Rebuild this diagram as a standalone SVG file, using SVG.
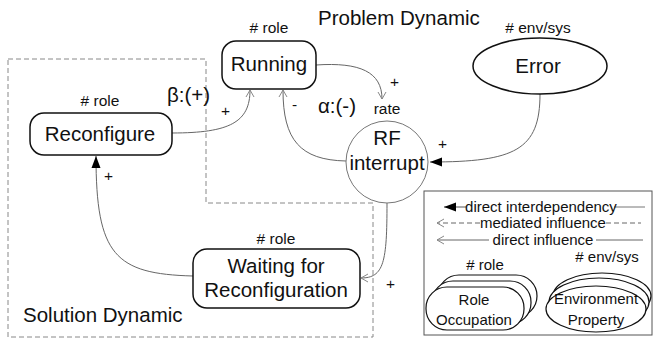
<svg xmlns="http://www.w3.org/2000/svg" width="654" height="340" viewBox="0 0 654 340">
  <style>
    text { font-family: "Liberation Sans", Arial, sans-serif; fill: #111; }
    .big { font-size: 20.5px; }
    .small { font-size: 15.5px; }
    .leg { font-size: 15px; }
    .node { fill: #fff; stroke: #111; stroke-width: 1.5; }
    .thin { fill: #fff; stroke: #777; stroke-width: 1; }
    .conn { fill: none; stroke: #666; stroke-width: 1; }
    .bound { fill: none; stroke: #888; stroke-width: 1; stroke-dasharray: 5 3; }
    .stack { fill: #fff; stroke: #111; stroke-width: 1.2; }
  </style>
  <defs>
    <marker id="open" viewBox="-9 -5 10 10" refX="0" refY="0" markerWidth="10" markerHeight="10" orient="auto" markerUnits="userSpaceOnUse">
      <path d="M-7,-4 L0,0 L-7,4" fill="none" stroke="#888" stroke-width="1"/>
    </marker>
    <marker id="solid" viewBox="-13 -6 14 12" refX="0" refY="0" markerWidth="14" markerHeight="12" orient="auto" markerUnits="userSpaceOnUse">
      <path d="M-12,-4.5 L0,0 L-12,4.5 Z" fill="#000"/>
    </marker>
  </defs>

  <rect width="654" height="340" fill="#fff"/>

  <!-- Solution Dynamic boundary -->
  <path class="bound" d="M8,59 L206,59 L206,203 L373,203 L373,337 L8,337 Z"/>
  <text class="big" x="23" y="322">Solution Dynamic</text>
  <text class="big" x="318" y="25">Problem Dynamic</text>

  <!-- connectors -->
  <g id="connectors">
    <path class="conn" d="M316,65 C360,62 382,72 382,99" marker-end="url(#open)"/>
    <path class="conn" d="M346,161 C300,160 283,140 283,90" marker-end="url(#open)"/>
    <path class="conn" d="M172,133 C230,133 250,122 250,90" marker-end="url(#open)"/>
    <path class="conn" d="M540,94 C540,150 515,162 430,162" marker-end="url(#solid)"/>
    <path class="conn" d="M387,203 C387,262 384,278 361,278" marker-end="url(#open)"/>
    <path class="conn" d="M193,276 C115,274 96,255 96,156" marker-end="url(#solid)"/>
    <text class="small" x="390" y="87">+</text>
    <text class="small" x="221" y="116">+</text>
    <text class="small" x="292" y="110">-</text>
    <text class="small" x="438" y="149">+</text>
    <text class="small" x="386" y="289">+</text>
    <text class="small" x="104" y="181">+</text>
    <text class="big" x="167" y="102">β:(+)</text>
    <text class="big" x="318" y="113">α:(-)</text>
  </g>

  <g id="running">
    <text class="small" x="269" y="33" text-anchor="middle"># role</text>
    <rect class="node" x="222" y="41" width="94" height="48" rx="14"/>
    <text class="big" x="269" y="71" text-anchor="middle">Running</text>
  </g>

  <g id="reconfigure">
    <text class="small" x="100" y="106" text-anchor="middle"># role</text>
    <rect class="node" x="30" y="113" width="142" height="42" rx="14"/>
    <text class="big" x="100" y="141" text-anchor="middle">Reconfigure</text>
  </g>

  <g id="waiting">
    <text class="small" x="276" y="244" text-anchor="middle"># role</text>
    <rect class="node" x="193" y="249" width="167" height="59" rx="14"/>
    <text class="big" x="276" y="273" text-anchor="middle">Waiting for</text>
    <text class="big" x="276" y="297" text-anchor="middle">Reconfiguration</text>
  </g>

  <g id="error">
    <text class="small" x="538" y="33" text-anchor="middle"># env/sys</text>
    <ellipse class="node" cx="540" cy="66" rx="67" ry="28"/>
    <text class="big" x="538" y="73" text-anchor="middle">Error</text>
  </g>

  <g id="rf-interrupt">
    <text class="small" x="387" y="114" text-anchor="middle">rate</text>
    <circle class="thin" cx="387" cy="162" r="41"/>
    <text class="big" x="387" y="145" text-anchor="middle">RF</text>
    <text class="big" x="387" y="170" text-anchor="middle">interrupt</text>
  </g>

  <!-- legend -->
  <g id="legend">
    <rect x="424" y="191" width="228" height="144" fill="#fff" stroke="#555" stroke-width="1"/>
    <path d="M466,207 L444,207" stroke="#555" stroke-width="1" fill="none" marker-end="url(#solid)"/>
    <path d="M614,207 L645,207" stroke="#777" stroke-width="1"/>
    <text class="leg" x="541" y="212" text-anchor="middle">direct interdependency</text>
    <path d="M480,223 L437,223" class="conn" stroke-dasharray="5 3" marker-end="url(#open)"/>
    <path d="M606,223 L641,223" class="conn" stroke-dasharray="5 3"/>
    <text class="leg" x="543" y="228" text-anchor="middle">mediated influence</text>
    <path d="M489,240 L437,240" class="conn" marker-end="url(#open)"/>
    <path d="M596,240 L643,240" class="conn"/>
    <text class="leg" x="543" y="245" text-anchor="middle">direct influence</text>

    <text class="leg" x="485" y="270" text-anchor="middle"># role</text>
    <rect class="stack" x="438" y="275" width="99" height="42" rx="21"/>
    <rect class="stack" x="432" y="281" width="99" height="43" rx="21"/>
    <rect class="stack" x="426" y="287" width="98" height="43" rx="21"/>
    <text class="leg" x="474" y="305" text-anchor="middle">Role</text>
    <text class="leg" x="474" y="325" text-anchor="middle">Occupation</text>

    <text class="leg" x="607" y="262" text-anchor="middle"># env/sys</text>
    <ellipse class="stack" cx="602" cy="296" rx="49" ry="23"/>
    <ellipse class="stack" cx="599" cy="302" rx="50" ry="24"/>
    <ellipse class="stack" cx="596" cy="309" rx="50" ry="23"/>
    <text class="leg" x="596" y="304" text-anchor="middle">Environment</text>
    <text class="leg" x="596" y="325" text-anchor="middle">Property</text>
  </g>
</svg>
